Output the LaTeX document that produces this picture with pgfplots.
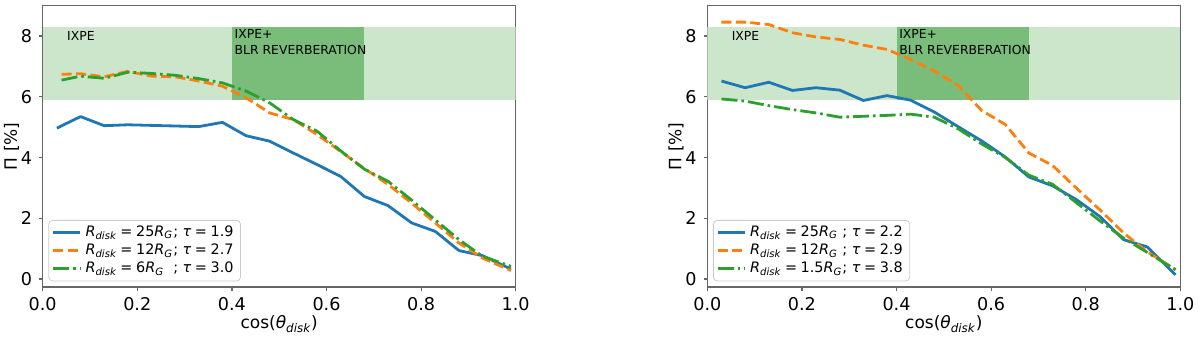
\documentclass[border=0pt]{standalone}
\usepackage{fontspec}
\setmainfont{DejaVu Sans}
\usepackage{pgfplots}
\pgfplotsset{compat=1.18}

\definecolor{c0}{HTML}{1F77B4}
\definecolor{c1}{HTML}{FF7F0E}
\definecolor{c2}{HTML}{2CA02C}
\definecolor{bandL}{HTML}{CCE6CC}
\definecolor{bandD}{HTML}{7ABD7A}

\newcommand{\Rd}{{\itshape R}\textsubscript{\itshape disk}}
\newcommand{\RG}{{\itshape R}\textsubscript{\itshape G}}
\newcommand{\eq}{\hspace{0.25em}=\hspace{0.25em}}
\newcommand{\tu}{{\itshape τ}}

\tikzset{bandtext/.style={font=\fontsize{6.2}{7.85}\selectfont, inner sep=0pt, align=left}}

\pgfplotsset{
  panel/.style={
    width=236.5pt, height=140.65pt, scale only axis,
    xmin=0, xmax=1, ymin=-0.26, ymax=9.0,
    xtick={0,0.2,0.4,0.6,0.8,1.0}, xticklabels={0.0,0.2,0.4,0.6,0.8,1.0},
    ytick={0,2,4,6,8},
    tick pos=left, tick align=outside, major tick length=1.8pt,
    axis line style={black!60, line width=0.6pt},
    tick style={black!60, line width=0.6pt},
    tick label style={font=\fontsize{8.8}{10}\selectfont},
    /pgf/number format/assume math mode=true,
    xlabel={cos({\itshape θ}\textsubscript{\itshape disk})},
    ylabel={Π [\%]},
    label style={font=\fontsize{8.5}{10}\selectfont},
    xlabel shift=-4.5pt, ylabel shift=-6pt,
    legend style={at={(0.012,0.02)}, anchor=south west,
      font=\fontsize{7.2}{8}\selectfont, draw=black!20, rounded corners=2pt,
      fill=white, fill opacity=0.8, text opacity=1, cells={anchor=west},
      nodes={inner ysep=1pt, text height=5.4pt, text depth=1.7pt},
      row sep=0pt, inner sep=1.5pt},
    legend image code/.code={\draw[#1] (0pt,0pt) -- (13.5pt,0pt);},
  },
  blueline/.style={c0, line width=1.4pt, line join=round},
  orangeline/.style={c1, line width=1.4pt, line join=round, dash pattern=on 5pt off 2.2pt},
  greenline/.style={c2, line width=1.4pt, line join=round, dash pattern=on 8pt off 2pt on 1.3pt off 2pt},
}

\begin{document}
\begin{tikzpicture}
\useasboundingbox (-21.35pt,-24.85pt) rectangle (578.65pt,143.5pt);

% left panel
\begin{axis}[panel]
\addplot[fill=bandL, draw=none, forget plot] coordinates {(0,5.9) (1,5.9) (1,8.3) (0,8.3)} -- cycle;
\addplot[fill=bandD, draw=none, forget plot] coordinates {(0.4,5.9) (0.68,5.9) (0.68,8.3) (0.4,8.3)} -- cycle;
\node[bandtext, anchor=west] at (axis cs:0.051,8.0) {IXPE};
\node[bandtext, anchor=west] at (axis cs:0.405,7.8) {IXPE+\\BLR REVERBERATION};

\addplot[blueline] coordinates {
(0.03,4.97) (0.08,5.35) (0.13,5.05) (0.18,5.08) (0.23,5.06) (0.28,5.04) (0.33,5.02)
(0.38,5.16) (0.43,4.72) (0.48,4.54) (0.53,4.15) (0.58,3.77) (0.63,3.38) (0.68,2.72)
(0.73,2.42) (0.78,1.85) (0.83,1.57) (0.88,0.94) (0.93,0.77) (0.99,0.33)};
\addlegendentry{\Rd\eq25\RG; \tu\eq1.9}
\addplot[orangeline] coordinates {
(0.04,6.74) (0.08,6.76) (0.13,6.66) (0.18,6.84) (0.23,6.68) (0.28,6.66) (0.33,6.52)
(0.38,6.35) (0.43,5.97) (0.48,5.47) (0.53,5.25) (0.58,4.76) (0.63,4.20) (0.68,3.64)
(0.73,3.12) (0.78,2.50) (0.83,1.85) (0.88,1.19) (0.93,0.69) (0.99,0.28)};
\addlegendentry{\Rd\eq12\RG; \tu\eq2.7}
\addplot[greenline] coordinates {
(0.04,6.55) (0.08,6.68) (0.13,6.61) (0.18,6.81) (0.23,6.77) (0.28,6.71) (0.33,6.60)
(0.38,6.46) (0.43,6.19) (0.48,5.80) (0.53,5.25) (0.58,4.87) (0.63,4.22) (0.68,3.62)
(0.73,3.22) (0.78,2.60) (0.83,1.95) (0.88,1.30) (0.93,0.75) (0.99,0.42)};
\addlegendentry{\Rd\eq6\RG\ \ ; \tu\eq3.0}
\end{axis}

% right panel
\begin{axis}[panel, at={(332.3pt,0pt)}]
\addplot[fill=bandL, draw=none, forget plot] coordinates {(0,5.9) (1,5.9) (1,8.3) (0,8.3)} -- cycle;
\addplot[fill=bandD, draw=none, forget plot] coordinates {(0.4,5.9) (0.68,5.9) (0.68,8.3) (0.4,8.3)} -- cycle;
\node[bandtext, anchor=west] at (axis cs:0.051,8.0) {IXPE};
\node[bandtext, anchor=west] at (axis cs:0.405,7.8) {IXPE+\\BLR REVERBERATION};

\addplot[blueline] coordinates {
(0.03,6.52) (0.08,6.30) (0.13,6.48) (0.18,6.21) (0.23,6.30) (0.28,6.22) (0.33,5.88)
(0.38,6.04) (0.43,5.89) (0.48,5.50) (0.53,5.02) (0.58,4.55) (0.63,4.02) (0.68,3.36)
(0.73,3.07) (0.78,2.62) (0.83,2.06) (0.88,1.30) (0.93,1.06) (0.99,0.14)};
\addlegendentry{\Rd\eq25\RG\ ; \tu\eq2.2}
\addplot[orangeline] coordinates {
(0.03,8.46) (0.08,8.46) (0.13,8.38) (0.18,8.11) (0.23,7.97) (0.28,7.89) (0.33,7.70)
(0.38,7.56) (0.43,7.23) (0.48,6.85) (0.53,6.38) (0.58,5.55) (0.63,5.09) (0.68,4.15)
(0.73,3.74) (0.78,3.00) (0.83,2.28) (0.88,1.52) (0.93,0.90) (0.99,0.31)};
\addlegendentry{\Rd\eq12\RG\ ; \tu\eq2.9}
\addplot[greenline] coordinates {
(0.03,5.93) (0.08,5.86) (0.13,5.71) (0.18,5.58) (0.23,5.47) (0.28,5.33) (0.33,5.36)
(0.38,5.39) (0.43,5.43) (0.48,5.33) (0.53,4.95) (0.58,4.45) (0.63,4.00) (0.68,3.42)
(0.73,3.12) (0.78,2.52) (0.83,1.92) (0.88,1.35) (0.93,0.88) (0.99,0.31)};
\addlegendentry{\Rd\eq1.5\RG; \tu\eq3.8}
\end{axis}
\end{tikzpicture}
\end{document}
